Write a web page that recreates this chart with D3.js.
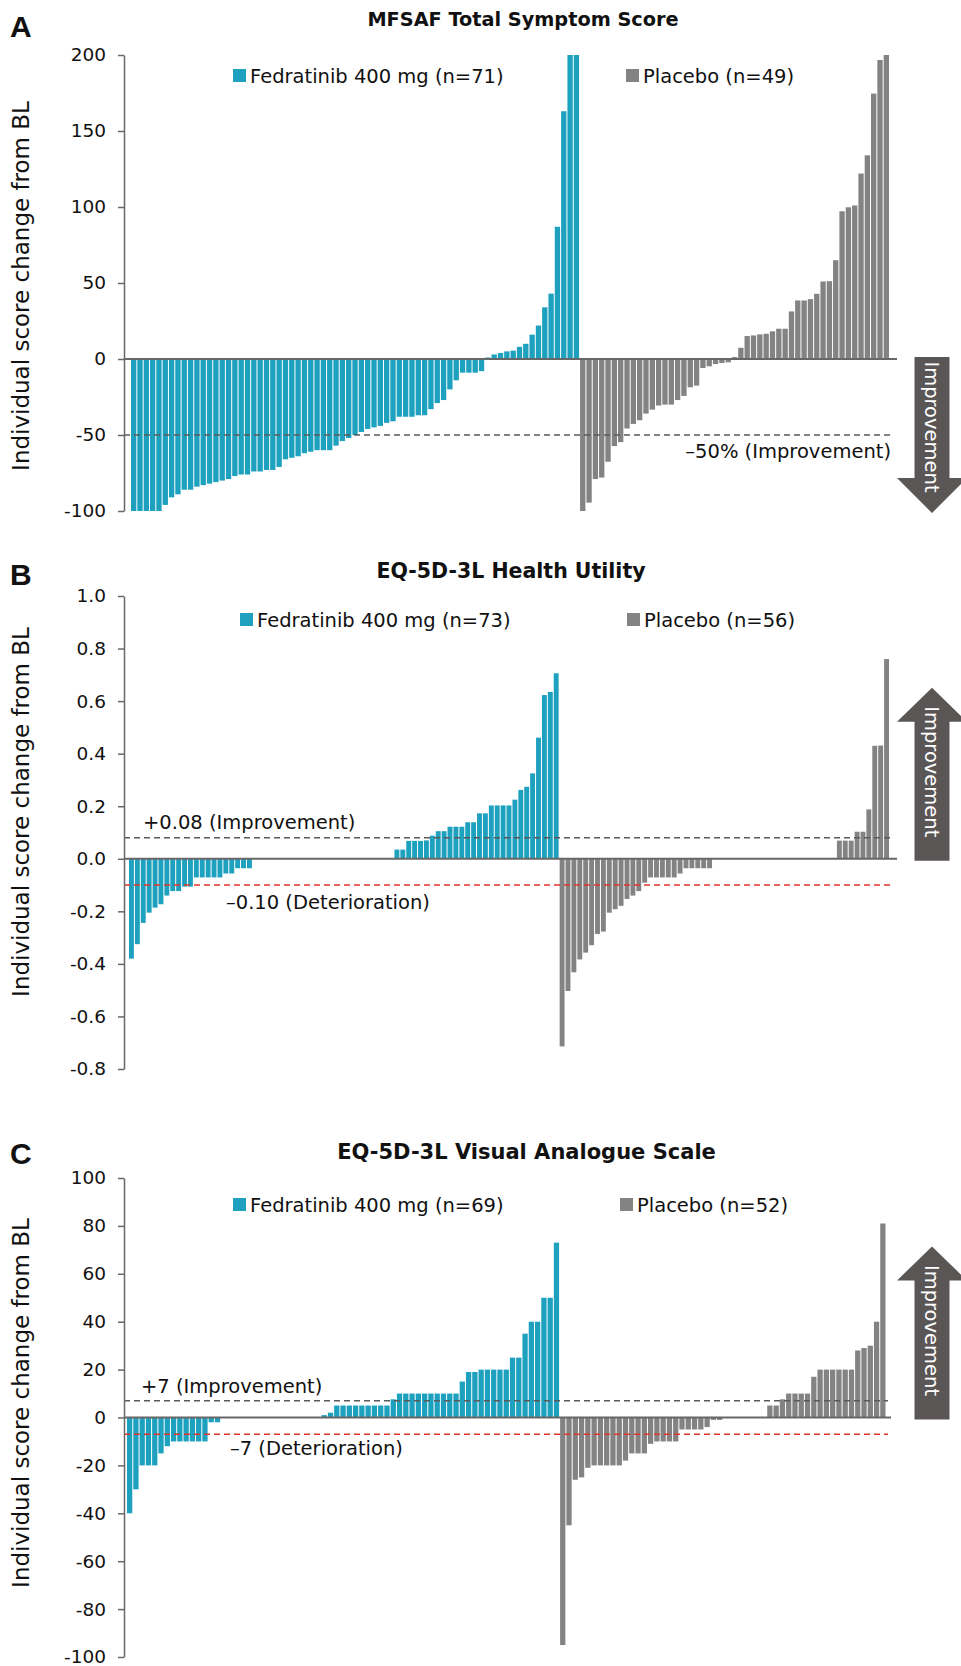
<!DOCTYPE html>
<html><head><meta charset="utf-8">
<script src="https://cdn.jsdelivr.net/npm/d3@7"></script>
<style>body{margin:0;background:#fff} text{font-family:"DejaVu Sans",sans-serif}</style>
</head><body><script>
// ---------- DATA ----------
const titles = ["MFSAF Total Symptom Score", "EQ-5D-3L Health Utility", "EQ-5D-3L Visual Analogue Scale"];
const panelLetters = ["A", "B", "C"];
const yAxisLabel = "Individual score change from BL";
const fedLabels = ["Fedratinib 400 mg (n=71)", "Fedratinib 400 mg (n=73)", "Fedratinib 400 mg (n=69)"];
const plaLabels = ["Placebo (n=49)", "Placebo (n=56)", "Placebo (n=52)"];

const mfsafFed = [-100,-100,-100,-100,-100,-96,-91,-89,-86,-86,-84,-83,-82,-81,-80,-79,-77,-76,-76,-74,-74,-73,-73,-71,-66,-65,-64,-62,-61,-60,-60,-60,-57,-54,-52,-50,-48,-46,-45,-44,-42,-41,-38,-38,-38,-37,-37,-33,-29,-27,-20,-14,-9,-9,-9,-8,1,3,4,5,5.5,8,10,16,22,34,43,87,163,200,200];
const mfsafPla = [-100,-94.5,-79,-78,-67.6,-57.3,-54.7,-45.7,-42.7,-40.3,-35.9,-33.3,-30.6,-30,-30,-27,-24.3,-18.6,-17.5,-5.9,-4.8,-3.3,-2.6,-2.2,1.3,7.4,15.1,15.5,16.2,16.6,18.2,19.9,19.9,31.3,38.5,38.5,39.4,42.9,51,51.2,65,97.2,99.8,101,122,134,174.6,196.7,200];

const utilFed = [-0.38,-0.325,-0.244,-0.205,-0.186,-0.173,-0.14,-0.123,-0.123,-0.106,-0.106,-0.071,-0.071,-0.071,-0.071,-0.071,-0.056,-0.056,-0.036,-0.036,-0.036,
 0,0,0,0,0,0,0,0,0,0,0,0,0,0,0,0,0,0,0,0,0,0,0,0,
 0.035,0.035,0.068,0.068,0.068,0.07,0.088,0.105,0.105,0.122,0.122,0.122,0.139,0.139,0.173,0.173,0.203,0.203,0.203,0.203,0.225,0.262,0.274,0.325,0.461,0.623,0.635,0.706];
const utilPla = [-0.714,-0.503,-0.432,-0.383,-0.357,-0.329,-0.286,-0.277,-0.205,-0.192,-0.179,-0.153,-0.14,-0.123,-0.091,-0.071,-0.071,-0.071,-0.071,-0.071,-0.056,-0.036,-0.036,-0.036,-0.036,-0.036,
 0,0,0,0,0,0,0,0,0,0,0,0,0,0,0,0,0,0,0,0,0,
 0.069,0.069,0.069,0.103,0.103,0.188,0.43,0.431,0.76];

const vasFed = [-40,-30,-20,-20,-20,-15,-12,-10,-10,-10,-10,-10,-10,-2,-2,
 0,0,0,0,0,0,0,0,0,0,0,0,0,0,0,0,
 1,2,5,5,5,5,5,5,5,5,5,7.6,10,10,10,10,10,10,10,10,10,10,15,19,19,20,20,20,20,20,25,25,35,40,40,50,50,73];
const vasPla = [-95,-45,-26,-25,-21,-20,-20,-20,-20,-20,-18,-15,-15,-15,-11,-10,-10,-10,-10,-5,-5,-5,-5,-4,-1,-1,
 0,0,0,0,0,0,0,
 5,5,7.6,10,10,10,10,17,20,20,20,20,20,20,28,29,30,40,81];

const ticksA = [-100,-50,0,50,100,150,200];
const ticksB = [-0.8,-0.6,-0.4,-0.2,0,0.2,0.4,0.6,0.8,1.0];
const ticksC = [-100,-80,-60,-40,-20,0,20,40,60,80,100];
const tickLabelsA = ["-100","-50","0","50","100","150","200"];
const tickLabelsB = ["-0.8","-0.6","-0.4","-0.2","0.0","0.2","0.4","0.6","0.8","1.0"];
const tickLabelsC = ["-100","-80","-60","-40","-20","0","20","40","60","80","100"];

const refValuesA = [-50], refLabelsA = ["\u201350% (Improvement)"];
const refValuesB = [0.08, -0.10], refLabelsB = ["+0.08 (Improvement)", "\u20130.10 (Deterioration)"];
const refValuesC = [7, -7], refLabelsC = ["+7 (Improvement)", "\u20137 (Deterioration)"];
const arrowText = "Improvement";

// ---------- DRAW ----------
const TEAL = "#1ea1bf", GRAY = "#838383", AXIS = "#676767", DASHG = "#5a5a5a", RED = "#e0342c", ARROW = "#5b5656";
const FS = 19.5;
const svg = d3.select("body").append("svg").attr("width", 961).attr("height", 1666);

function panel(o) {
  const g = svg.append("g");
  const y = d3.scaleLinear().domain(o.yDomain).range(o.yRange);
  const n = o.fed.length + o.pla.length;
  const x = d3.scaleBand().domain(d3.range(n)).range(o.xRange).padding(0);
  const data = o.fed.map((v, i) => ({v, i, c: TEAL}))
    .concat(o.pla.map((v, j) => ({v, i: o.fed.length + j, c: GRAY})));

  g.selectAll("rect.bar").data(data.filter(d => d.v !== 0)).join("rect")
    .attr("class", "bar")
    .attr("x", d => x(d.i)).attr("width", x.bandwidth() - 1)
    .attr("y", d => y(Math.max(0, d.v)))
    .attr("height", d => Math.abs(y(d.v) - y(0)))
    .attr("fill", d => d.c);

  // reference lines
  o.refs.forEach((r, k) => {
    g.append("line").attr("x1", 124).attr("x2", o.refEnd)
      .attr("y1", y(r)).attr("y2", y(r))
      .attr("stroke", o.refColors[k]).attr("stroke-width", 1.6)
      .attr("stroke-dasharray", "6,4");
    const a = o.refAnn[k];
    g.append("text").attr("x", a.x).attr("y", y(r) + a.dy)
      .attr("text-anchor", a.anchor).attr("font-size", FS).attr("fill", "#111")
      .text(o.refLabels[k]);
  });

  // zero line
  g.append("line").attr("x1", 124).attr("x2", o.zeroEnd).attr("y1", y(0)).attr("y2", y(0))
    .attr("stroke", AXIS).attr("stroke-width", 2);

  // axis
  const ax = d3.axisLeft(y).tickValues(o.ticks).tickSize(6).tickSizeOuter(0).tickPadding(12)
    .tickFormat((d, i) => o.tickLabels[i]);
  const ag = g.append("g").attr("transform", "translate(124,0)").call(ax)
    .attr("font-family", "DejaVu Sans").attr("font-size", 18.5);
  ag.selectAll("path,line").attr("stroke", AXIS).attr("stroke-width", 1.5);
  ag.selectAll("text").attr("fill", "#111");

  // title / letter / y label
  g.append("text").attr("x", o.titleX).attr("y", o.titleY).attr("text-anchor", "middle")
    .attr("font-weight", "bold").attr("font-size", o.titleFs).attr("fill", "#111").text(o.title);
  g.append("text").attr("x", 10).attr("y", o.letterY)
    .style("font-family", "Liberation Sans, Arial, sans-serif")
    .attr("font-weight", "bold").attr("font-size", 30).attr("fill", "#111").text(o.letter);
  g.append("text").attr("transform", `translate(29,${o.labelCy}) rotate(-90)`)
    .attr("text-anchor", "middle").attr("font-size", 23).attr("fill", "#111").text(yAxisLabel);

  // legend
  [[o.legFed, o.fedLabel, TEAL], [o.legPla, o.plaLabel, GRAY]].forEach(([p, lab, col]) => {
    g.append("rect").attr("x", p[0]).attr("y", o.legY - 6.5).attr("width", 13).attr("height", 13).attr("fill", col);
    g.append("text").attr("x", p[0] + 17).attr("y", o.legY).attr("dy", "0.36em")
      .attr("font-size", FS).attr("fill", "#111").text(lab);
  });

  // arrow
  const y0 = y(0), cx = 932, sh = 17.5, hh = 35;
  let pts;
  if (o.arrowDown) {
    const top = y0 - 2, base = y0 + 119, tip = y0 + 154;
    pts = [[cx - sh, top], [cx + sh, top], [cx + sh, base], [cx + hh, base], [cx, tip], [cx - hh, base], [cx - sh, base]];
    g.append("polygon").attr("points", pts.map(p => p.join(",")).join(" ")).attr("fill", ARROW);
    g.append("text").attr("transform", `translate(${cx},${y0 + 68}) rotate(90)`)
      .attr("text-anchor", "middle").attr("dy", "0.35em").attr("font-size", FS).attr("fill", "#fff").text(arrowText);
  } else {
    const bot = y0 + 2, base = y0 - 137, tip = y0 - 171;
    pts = [[cx - sh, bot], [cx + sh, bot], [cx + sh, base], [cx + hh, base], [cx, tip], [cx - hh, base], [cx - sh, base]];
    g.append("polygon").attr("points", pts.map(p => p.join(",")).join(" ")).attr("fill", ARROW);
    g.append("text").attr("transform", `translate(${cx},${y0 - 87}) rotate(90)`)
      .attr("text-anchor", "middle").attr("dy", "0.35em").attr("font-size", FS).attr("fill", "#fff").text(arrowText);
  }
}

panel({
  letter: panelLetters[0], letterY: 37, title: titles[0], titleX: 523, titleY: 26, titleFs: 19.3,
  fed: mfsafFed, pla: mfsafPla, fedLabel: fedLabels[0], plaLabel: plaLabels[0],
  yDomain: [-100, 200], yRange: [511, 55], ticks: ticksA, tickLabels: tickLabelsA,
  xRange: [131, 890], zeroEnd: 897, refEnd: 893,
  refs: refValuesA, refLabels: refLabelsA, refColors: [DASHG],
  refAnn: [{x: 891, dy: 23, anchor: "end"}],
  legY: 75.5, legFed: [233], legPla: [626], labelCy: 286, arrowDown: true
});
panel({
  letter: panelLetters[1], letterY: 585, title: titles[1], titleX: 511, titleY: 578, titleFs: 20.5,
  fed: utilFed, pla: utilPla, fedLabel: fedLabels[1], plaLabel: plaLabels[1],
  yDomain: [-0.8, 1.0], yRange: [1069, 596], ticks: ticksB, tickLabels: tickLabelsB,
  xRange: [129, 890], zeroEnd: 897, refEnd: 893,
  refs: refValuesB, refLabels: refLabelsB, refColors: [DASHG, RED],
  refAnn: [{x: 143, dy: -9, anchor: "start"}, {x: 226, dy: 24, anchor: "start"}],
  legY: 619.5, legFed: [240], legPla: [627], labelCy: 812, arrowDown: false
});
panel({
  letter: panelLetters[2], letterY: 1164, title: titles[2], titleX: 526.5, titleY: 1159, titleFs: 21,
  fed: vasFed, pla: vasPla, fedLabel: fedLabels[2], plaLabel: plaLabels[2],
  yDomain: [-100, 100], yRange: [1657, 1178], ticks: ticksC, tickLabels: tickLabelsC,
  xRange: [127, 886.5], zeroEnd: 891, refEnd: 888,
  refs: refValuesC, refLabels: refLabelsC, refColors: [DASHG, RED],
  refAnn: [{x: 141, dy: -8, anchor: "start"}, {x: 230, dy: 21, anchor: "start"}],
  legY: 1204.5, legFed: [233], legPla: [620], labelCy: 1403, arrowDown: false
});
</script></body></html>
